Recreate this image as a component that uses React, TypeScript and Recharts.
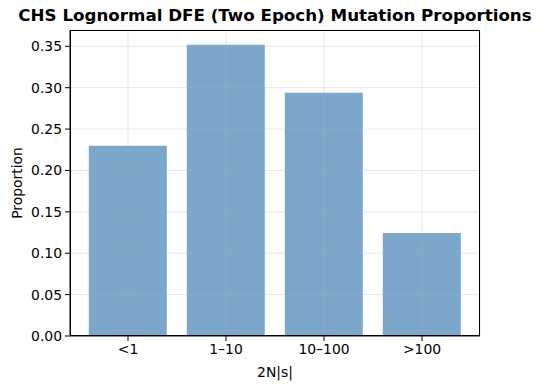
import { BarChart, Bar, XAxis, YAxis, CartesianGrid } from 'recharts';

const categories = ['<1', '1–10', '10–100', '>100'];
const proportions = [0.230, 0.352, 0.294, 0.1245];
const yTicks = [0, 0.05, 0.1, 0.15, 0.2, 0.25, 0.3, 0.35];

const chartData = categories.map((name, i) => ({ name, value: proportions[i] }));

const font = '"DejaVu Sans", sans-serif';
const tickStyle = { fill: '#000', fontSize: 13.9, fontFamily: font };
const chartMargin = { top: 30, right: 61, left: 10, bottom: 29 };

// one chart draws bars and axes, a second one on top draws only the grid (matplotlib puts grid above bars)
const Layer = ({ gridOnly }: { gridOnly: boolean }) => {
  const line = gridOnly ? { stroke: 'none' } : { stroke: '#000' };
  const tick = gridOnly ? { ...tickStyle, fill: 'transparent' } : tickStyle;
  return (
    <BarChart width={541} height={390} data={chartData} margin={chartMargin} barCategoryGap="10%">
      <XAxis
        dataKey="name"
        padding={{ left: 9, right: 9 }}
        tickSize={5}
        tickMargin={3}
        tick={tick}
        axisLine={line}
        tickLine={line}
        height={25}
        interval={0}
      />
      <YAxis
        domain={[0, 0.3697]}
        ticks={yTicks}
        tickFormatter={(v: number) => v.toFixed(2)}
        tickSize={5}
        tickMargin={3}
        tick={tick}
        axisLine={line}
        tickLine={line}
        width={60}
        allowDataOverflow
      />
      {gridOnly ? (
        <CartesianGrid stroke="#b0b0b0" strokeOpacity={0.3} />
      ) : (
        <Bar dataKey="value" fill="#4682b4" fillOpacity={0.7} isAnimationActive={false} />
      )}
      {gridOnly && <Bar dataKey="value" fill="none" isAnimationActive={false} />}
    </BarChart>
  );
};

const App = () => {
  return (
    <div style={{ position: 'absolute', left: 0, top: 0, width: 541, height: 390, background: '#fff' }}>
      <div
        style={{
          position: 'absolute',
          left: 70,
          width: 410,
          top: 5,
          fontFamily: font,
          fontWeight: 'bold',
          fontSize: 16.7,
          whiteSpace: 'nowrap',
          display: 'flex',
          justifyContent: 'center',
        }}
      >
        CHS Lognormal DFE (Two Epoch) Mutation Proportions
      </div>
      <div style={{ position: 'absolute', left: 0, top: 0 }}>
        <Layer gridOnly={false} />
      </div>
      <div style={{ position: 'absolute', left: 0, top: 0 }}>
        <Layer gridOnly={true} />
      </div>
      <div
        style={{
          position: 'absolute',
          left: 70,
          top: 30,
          width: 410,
          height: 306,
          boxSizing: 'border-box',
          border: '1px solid #000',
          pointerEvents: 'none',
        }}
      />
      <div
        style={{
          position: 'absolute',
          left: 70,
          width: 410,
          top: 364,
          textAlign: 'center',
          fontFamily: font,
          fontSize: 13.9,
        }}
      >
        2N|s|
      </div>
      <div
        style={{
          position: 'absolute',
          left: 17,
          top: 183,
          transform: 'translate(-50%, -50%) rotate(-90deg)',
          fontFamily: font,
          fontSize: 13.9,
          whiteSpace: 'nowrap',
        }}
      >
        Proportion
      </div>
    </div>
  );
};

export default App;
